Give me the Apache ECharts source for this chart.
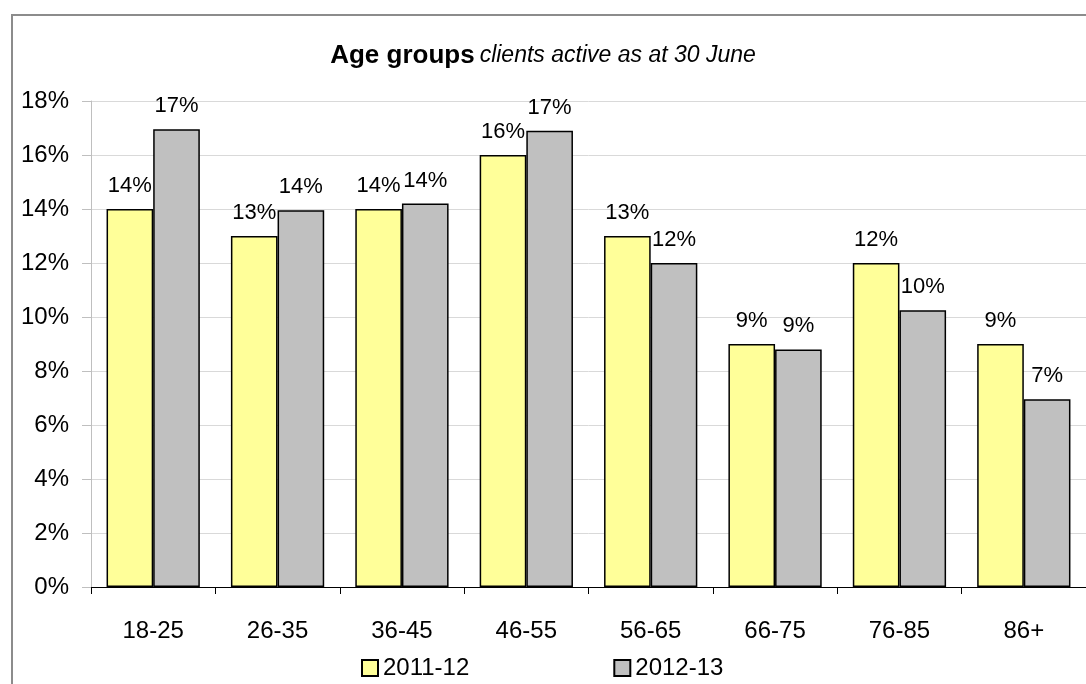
<!DOCTYPE html>
<html>
<head>
<meta charset="utf-8">
<script src="https://cdn.jsdelivr.net/npm/echarts@6/dist/echarts.min.js"></script>
<style>
html,body{margin:0;padding:0;background:#fff;}
#chart{width:1086px;height:684px;}
</style>
</head>
<body>
<div id="chart"></div>
<script>
const categories = ['18-25','26-35','36-45','46-55','56-65','66-75','76-85','86+'];
const seriesNames = ['2011-12','2012-13'];
const values2011 = [14.0, 13.0, 14.0, 16.0, 13.0, 9.0, 12.0, 9.0];
const values2012 = [16.95, 13.95, 14.2, 16.9, 12.0, 8.8, 10.25, 6.95];
const yTicks = [0, 2, 4, 6, 8, 10, 12, 14, 16, 18];

const FONT = '"Liberation Sans", Arial, sans-serif';
const chart = echarts.init(document.getElementById('chart'), null, {renderer: 'canvas'});

const labelOpt = {
  show: true,
  position: 'top',
  distance: 12,
  color: '#000',
  fontFamily: FONT,
  fontSize: 22,
  formatter: p => Math.round(p.value) + '%'
};

chart.setOption({
  animation: false,
  backgroundColor: '#fff',
  title: {
    left: 'center',
    top: 38,
    text: '{b|Age groups} {i|clients active as at 30 June}',
    textStyle: {
      fontWeight: 'normal',
      rich: {
        b: {fontFamily: FONT, fontWeight: 'bold', fontSize: 26, color: '#000'},
        i: {fontFamily: FONT, fontStyle: 'italic', fontWeight: 'normal', fontSize: 23, color: '#000'}
      }
    }
  },
  graphic: [{
    type: 'rect',
    shape: {x: 12, y: 15, width: 1200, height: 800},
    style: {fill: 'none', stroke: '#8c8c8c', lineWidth: 2},
    silent: true
  }],
  legend: {
    left: 361,
    top: 656,
    padding: 0,
    itemWidth: 16,
    itemHeight: 16,
    itemGap: 144,
    icon: 'rect',
    data: seriesNames,
    textStyle: {fontFamily: FONT, fontSize: 24, color: '#000'}
  },
  grid: {left: 91, top: 101, width: 1004, height: 486, containLabel: false},
  xAxis: {
    type: 'category',
    data: categories,
    boundaryGap: true,
    axisLine: {show: true, lineStyle: {color: '#000', width: 1}},
    axisTick: {show: true, length: 7, lineStyle: {color: '#000'}},
    axisLabel: {fontFamily: FONT, fontSize: 24, color: '#000', margin: 32, interval: 0},
    splitLine: {show: false}
  },
  yAxis: {
    type: 'value',
    min: yTicks[0],
    max: yTicks[yTicks.length - 1],
    interval: 2,
    axisLine: {show: true, lineStyle: {color: '#bfbfbf', width: 1}},
    axisTick: {show: true, length: 9, lineStyle: {color: '#bfbfbf'}},
    axisLabel: {fontFamily: FONT, fontSize: 24, color: '#000', margin: 22, formatter: '{value}%'},
    splitLine: {show: true, lineStyle: {color: '#d9d9d9', width: 1}}
  },
  series: [
    {
      name: seriesNames[0],
      type: 'bar',
      data: values2011,
      barGap: '0%',
      barCategoryGap: '25%',
      itemStyle: {color: '#ffff99', borderColor: '#000', borderWidth: 1.5},
      label: labelOpt
    },
    {
      name: seriesNames[1],
      type: 'bar',
      data: values2012,
      barGap: '0%',
      barCategoryGap: '25%',
      itemStyle: {color: '#c0c0c0', borderColor: '#000', borderWidth: 1.5},
      label: labelOpt
    }
  ]
});
</script>
</body>
</html>
